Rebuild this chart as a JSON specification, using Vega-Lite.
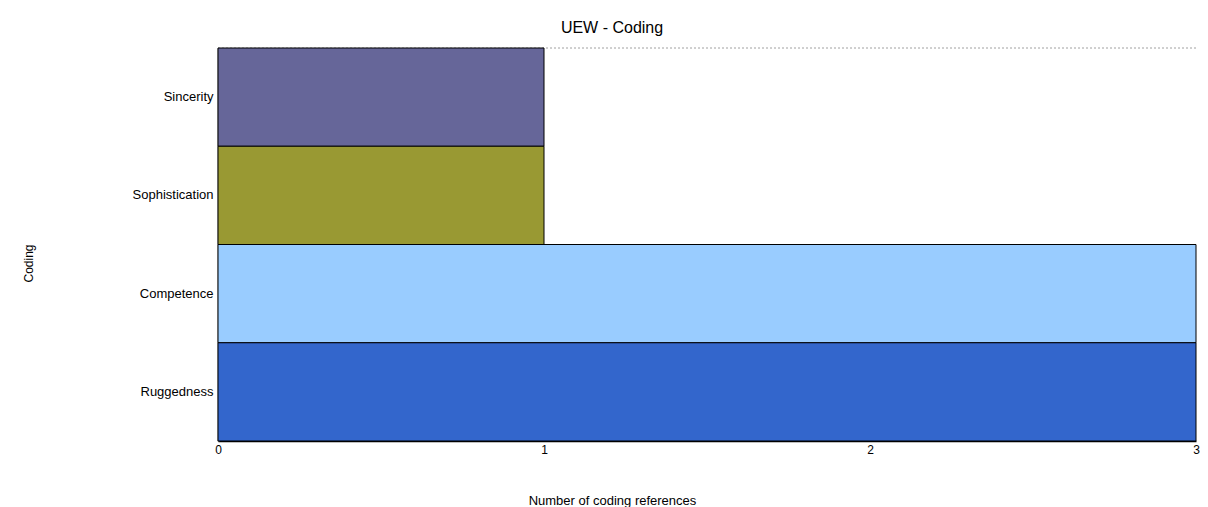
{
  "$schema": "https://vega.github.io/schema/vega-lite/v6.json",
  "autosize": {"type": "none"},
  "width": 978,
  "height": 393,
  "padding": {"left": 218, "top": 48, "right": 12, "bottom": 66},
  "background": "white",
  "config": {
    "view": {"stroke": null},
    "font": "Liberation Sans"
  },
  "title": {
    "text": "UEW - Coding",
    "fontSize": 16,
    "fontWeight": "normal",
    "font": "Liberation Sans",
    "color": "#000",
    "anchor": "middle",
    "dx": -95,
    "offset": 12
  },
  "data": {
    "values": [
      {"code": "Sincerity", "refs": 1, "color": "#666699"},
      {"code": "Sophistication", "refs": 1, "color": "#999933"},
      {"code": "Competence", "refs": 3, "color": "#99CCFF"},
      {"code": "Ruggedness", "refs": 3, "color": "#3366CC"}
    ]
  },
  "layer": [
    {
      "mark": {"type": "rule", "color": "#cccccc", "strokeDash": [2, 2], "strokeWidth": 1},
      "encoding": {
        "y": {"datum": "Sincerity", "type": "nominal", "bandPosition": 0},
        "x": {"datum": 0, "type": "quantitative"},
        "x2": {"datum": 3}
      }
    },
    {
      "mark": {"type": "bar", "stroke": "#000", "strokeWidth": 1},
      "encoding": {
        "y": {
          "field": "code",
          "type": "nominal",
          "sort": ["Sincerity", "Sophistication", "Competence", "Ruggedness"],
          "scale": {"paddingInner": 0, "paddingOuter": 0},
          "axis": {
            "title": "Coding",
            "titleFontSize": 12,
            "titleFontWeight": "normal",
            "titleColor": "#000",
            "titleX": -190,
            "titleY": 215,
            "titleAngle": -90,
            "titleBaseline": "middle",
            "ticks": false,
            "labelPadding": 5,
            "labelFontSize": 13,
            "labelColor": "#000",
            "domainColor": "#888",
            "domainWidth": 2
          }
        },
        "x": {
          "field": "refs",
          "type": "quantitative",
          "scale": {"domain": [0, 3], "nice": false},
          "axis": {
            "title": "Number of coding references",
            "titleFontSize": 13,
            "titleFontWeight": "normal",
            "titleColor": "#000",
            "titleX": 394,
            "titleY": 63,
            "titleBaseline": "alphabetic",
            "values": [0, 1, 2, 3],
            "format": "d",
            "grid": false,
            "ticks": false,
            "labelFlush": false,
            "labelPadding": 3,
            "labelFontSize": 12,
            "labelColor": "#000",
            "domainColor": "#000",
            "domainWidth": 1.5
          }
        },
        "color": {"field": "color", "type": "nominal", "scale": null, "legend": null}
      }
    }
  ]
}
